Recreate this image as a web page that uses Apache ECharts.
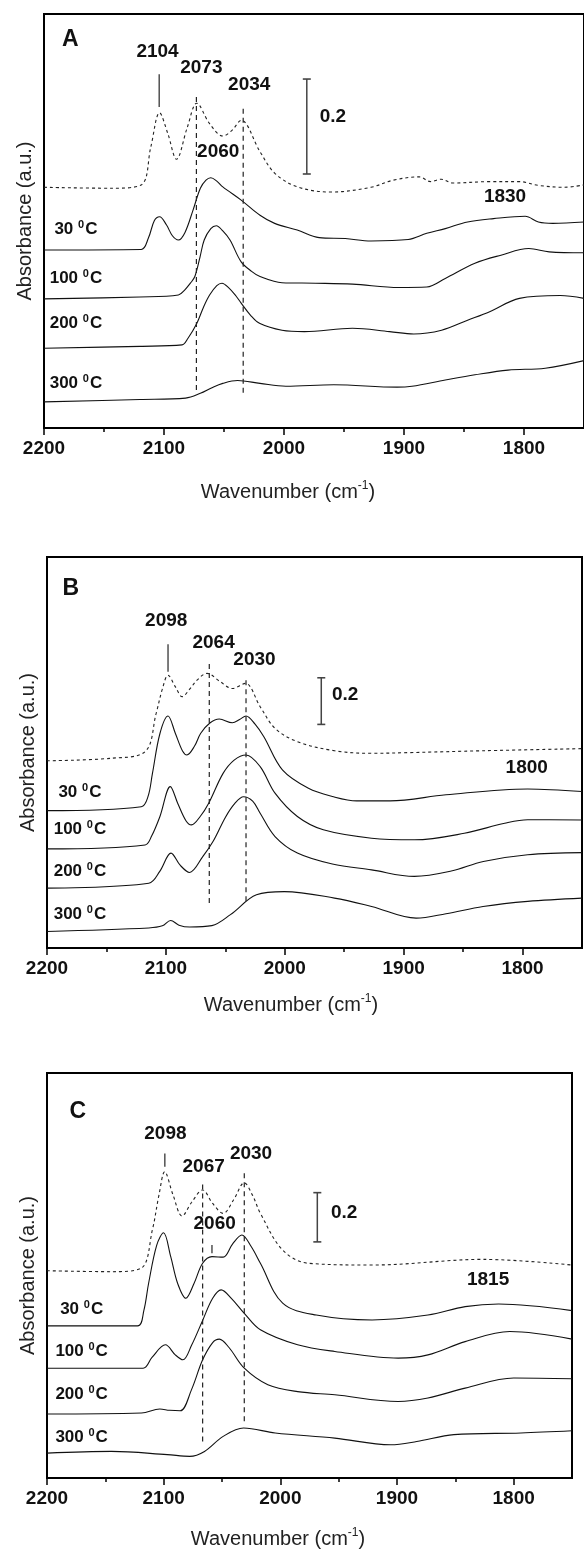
<!DOCTYPE html>
<html>
<head>
<meta charset="utf-8">
<script src="https://cdn.jsdelivr.net/npm/echarts@6/dist/echarts.min.js"></script>
<style>html,body{margin:0;padding:0;background:#fff;}#c{width:584px;height:1550px;}</style>
</head>
<body>
<div id="c"></div>
<script>
// ---------- DATA ----------
const tickLabels = [2200, 2100, 2000, 1900, 1800];
const minorTicks = [2150, 2050, 1950, 1850];
const temps = ['30', '100', '200', '300'];

// Panel A  [wavenumber, absorbance (offset)]
const A_ref = [[2200,0.507],[2143.8,0.505],[2119,0.512],[2111,0.592],[2103.7,0.664],[2096.8,0.620],[2089.6,0.566],[2080.5,0.634],[2072.7,0.684],[2062,0.641],[2051,0.615],[2043.3,0.627],[2035.7,0.648],[2020,0.582],[2007.8,0.537],[1989,0.508],[1961,0.497],[1927.5,0.507],[1908.9,0.522],[1887.2,0.529],[1878,0.519],[1869,0.524],[1859.4,0.516],[1828.5,0.519],[1803.8,0.519],[1788,0.511],[1766.8,0.507],[1750,0.512]];
const A_30 = [[2200,0.375],[2119,0.376],[2113,0.400],[2108,0.437],[2103.7,0.445],[2098,0.428],[2093,0.405],[2088,0.396],[2082.5,0.412],[2075.8,0.459],[2069.7,0.505],[2065,0.522],[2061,0.527],[2056,0.520],[2051,0.508],[2035.7,0.480],[2020,0.448],[2007.8,0.431],[1989,0.417],[1970.7,0.401],[1949,0.399],[1927.5,0.394],[1896.5,0.397],[1881,0.410],[1865.6,0.420],[1847,0.434],[1825.4,0.441],[1799,0.446],[1788,0.434],[1776,0.431],[1750,0.434]];
const A_100 = [[2200,0.272],[2120,0.276],[2088,0.280],[2083,0.290],[2078,0.305],[2074.3,0.319],[2070,0.360],[2066.5,0.396],[2061,0.420],[2056.4,0.426],[2051,0.415],[2045,0.396],[2035.7,0.350],[2027,0.330],[2020,0.319],[2001.7,0.306],[1973.8,0.305],[1942.9,0.303],[1904.2,0.296],[1881,0.297],[1865.6,0.315],[1840.9,0.347],[1819.2,0.364],[1796,0.378],[1779,0.371],[1750,0.369]];
const A_200 = [[2200,0.168],[2120,0.172],[2085,0.175],[2080,0.189],[2072.7,0.220],[2067,0.255],[2062,0.280],[2056,0.300],[2051.7,0.305],[2046,0.295],[2040,0.278],[2035.7,0.263],[2028,0.238],[2020,0.220],[2001.7,0.206],[1983,0.203],[1943,0.210],[1912,0.203],[1891.9,0.198],[1868.7,0.206],[1847,0.227],[1828.6,0.245],[1803.8,0.273],[1769.8,0.279],[1750,0.273]];
const A_300 = [[2200,0.055],[2120,0.060],[2082,0.063],[2069.7,0.073],[2060,0.085],[2051,0.094],[2038.7,0.100],[2020,0.094],[1998.5,0.088],[1958.5,0.091],[1905.8,0.086],[1893.4,0.088],[1865.6,0.101],[1840.9,0.112],[1813.3,0.122],[1782.3,0.126],[1750,0.142]];
const A_solidMarks = [[2104, 0.676, 0.745]];
const A_dashMarks = [[2073, 0.080, 0.705], [2034, 0.074, 0.676]];
const A_bar = [1981, 0.535, 0.735];
const A_peakText = [['2104',2105.4,0.792],['2073',2068.9,0.758],['2034',2029,0.722],['0.2',1959.3,0.655],['2060',2054.8,0.581],['1830',1815.8,0.488],['A',2178,0.817]];
const A_tempPos = [[2173.4,0.419],[2173.4,0.316],[2173.4,0.220],[2173.4,0.094]];

// Panel B
const B_ref = [[2200,0.803],[2145.7,0.814],[2117.5,0.842],[2108.2,1.006],[2103,1.110],[2098.2,1.170],[2092,1.120],[2086.3,1.078],[2080,1.110],[2073.8,1.149],[2065.4,1.178],[2055,1.145],[2044.1,1.113],[2033.2,1.135],[2020.7,1.035],[2008.2,0.942],[1989.4,0.885],[1958.2,0.846],[1927,0.835],[1895.7,0.838],[1833.2,0.846],[1750,0.855]];
const B_30 = [[2200,0.589],[2120.7,0.606],[2115,0.650],[2111.3,0.749],[2105,0.920],[2098.2,0.995],[2092,0.920],[2086,0.845],[2082.3,0.828],[2076,0.865],[2070.7,0.921],[2063,0.965],[2055.1,0.982],[2044.1,0.966],[2038,0.980],[2032.6,0.995],[2025,0.960],[2017.6,0.906],[2002,0.764],[1980.1,0.685],[1960,0.650],[1939.5,0.631],[1911.4,0.631],[1864.4,0.657],[1795.7,0.682],[1750,0.671]];
const B_100 = [[2200,0.425],[2117.5,0.442],[2112,0.480],[2105,0.564],[2096.3,0.692],[2090,0.620],[2083,0.545],[2078.5,0.528],[2071,0.565],[2064,0.621],[2051.9,0.749],[2042.6,0.806],[2032.6,0.828],[2020.7,0.778],[2008.2,0.664],[1989.4,0.564],[1967.6,0.507],[1927,0.471],[1891,0.464],[1849,0.492],[1815,0.535],[1795.7,0.550],[1750,0.549]];
const B_200 = [[2200,0.257],[2114.4,0.278],[2105,0.330],[2095.7,0.407],[2088,0.355],[2080.1,0.324],[2069,0.392],[2060,0.460],[2050,0.560],[2042,0.620],[2034.7,0.649],[2027,0.630],[2020.7,0.578],[2008.2,0.478],[1989.4,0.407],[1960,0.360],[1927,0.335],[1891,0.307],[1860,0.330],[1833,0.371],[1795.7,0.400],[1750,0.409]];
const B_300 = [[2200,0.071],[2114.4,0.086],[2103,0.095],[2096,0.118],[2089,0.098],[2080,0.090],[2061.3,0.096],[2045.7,0.143],[2023.8,0.228],[2000.4,0.242],[1958.2,0.214],[1927,0.178],[1889.5,0.128],[1864.4,0.147],[1833.2,0.178],[1795.7,0.200],[1750,0.214]];
const B_solidMarks = [[2098.2, 1.185, 1.303]];
const B_dashMarks = [[2063.5, 0.193, 1.221], [2032.6, 0.200, 1.156]];
const B_bar = [1969.3, 0.959, 1.159];
const B_peakText = [['2098',2099.7,1.402],['2064',2059.9,1.309],['2030',2025.5,1.235],['0.2',1949.2,1.085],['1800',1796.5,0.773],['B',2180,1.542]];
const B_tempPos = [[2172.3,0.666],[2172.3,0.507],[2172.3,0.328],[2172.3,0.143]];

// Panel C
const C_ref = [[2200,0.842],[2144.8,0.838],[2119.3,0.852],[2109.7,1.007],[2104,1.150],[2099.1,1.244],[2092,1.150],[2084.2,1.064],[2076,1.120],[2066.6,1.170],[2058,1.115],[2049,1.075],[2040,1.130],[2030.9,1.199],[2024,1.150],[2017.1,1.075],[1998,0.926],[1975.7,0.872],[1921.4,0.865],[1825.6,0.888],[1750,0.865]];
const C_30 = [[2200,0.618],[2122.4,0.618],[2117,0.680],[2112.9,0.791],[2106,0.945],[2100.1,0.996],[2094,0.900],[2088,0.790],[2081,0.730],[2074,0.790],[2066.6,0.872],[2058.6,0.899],[2049,0.897],[2041,0.950],[2033,0.987],[2025,0.940],[2017.1,0.872],[1998,0.710],[1969.2,0.662],[1921.4,0.642],[1873.5,0.662],[1841.6,0.696],[1812.9,0.707],[1750,0.680]];
const C_100 = [[2200,0.446],[2117.6,0.446],[2110,0.490],[2098.5,0.541],[2090,0.500],[2083.5,0.480],[2076,0.540],[2066.6,0.640],[2058,0.730],[2050.7,0.764],[2042,0.730],[2030.9,0.669],[2017.1,0.602],[1985.2,0.541],[1953.3,0.514],[1899,0.487],[1873.5,0.500],[1841.6,0.554],[1803.3,0.595],[1750,0.564]];
const C_200 = [[2200,0.260],[2119,0.264],[2103.3,0.280],[2095,0.275],[2085.8,0.273],[2076.2,0.358],[2066.6,0.480],[2058,0.550],[2052.3,0.564],[2044,0.530],[2030.9,0.446],[2010.7,0.379],[1985.2,0.351],[1953.3,0.338],[1899,0.311],[1873.5,0.325],[1841.6,0.365],[1800,0.406],[1750,0.403]];
const C_300 = [[2200,0.101],[2144.8,0.108],[2096.9,0.095],[2077.7,0.088],[2065,0.108],[2049,0.169],[2031.5,0.203],[2004.4,0.183],[1953.3,0.162],[1905.5,0.135],[1883.1,0.148],[1851.2,0.176],[1793.8,0.183],[1750,0.192]];
const C_solidMarks = [[2099, 1.264, 1.318], [2058.6, 0.913, 0.946]];
const C_dashMarks = [[2066.6, 0.148, 1.199], [2030.9, 0.230, 1.244]];
const C_bar = [1968.3, 0.959, 1.159];
const C_peakText = [['2098',2098.5,1.400],['2067',2065.7,1.264],['2030',2025.1,1.318],['0.2',1945.3,1.077],['2060',2056.3,1.032],['1815',1821.9,0.804],['C',2173.7,1.487]];
const C_tempPos = [[2170.3,0.686],[2170.3,0.514],[2170.3,0.338],[2170.3,0.166]];

// ---------- CHART ----------
const FONT = 'Liberation Sans, Arial, Helvetica, sans-serif';
const TXT = '#111';
const panels = [
  {grid:{left:44, top:14, width:542, height:414}, ymax:0.872, ref:A_ref, curves:[A_30,A_100,A_200,A_300], solid:A_solidMarks, dash:A_dashMarks, bar:A_bar, text:A_peakText, temp:A_tempPos, title:{x:288, y:492}},
  {grid:{left:47, top:557, width:535, height:391}, ymax:1.677, ref:B_ref, curves:[B_30,B_100,B_200,B_300], solid:B_solidMarks, dash:B_dashMarks, bar:B_bar, text:B_peakText, temp:B_tempPos, title:{x:291, y:1005}},
  {grid:{left:47, top:1073, width:525, height:405}, ymax:1.645, ref:C_ref, curves:[C_30,C_100,C_200,C_300], solid:C_solidMarks, dash:C_dashMarks, bar:C_bar, text:C_peakText, temp:C_tempPos, title:{x:278, y:1539}}
];

const grids = [], xAxes = [], yAxes = [], series = [], graphics = [];
const lblBase = {show:true, position:'inside', fontFamily:FONT, fontWeight:'bold', color:TXT, opacity:1, textBorderWidth:0, textShadowBlur:0};
panels.forEach((p, i) => {
  grids.push(Object.assign({show:true, borderColor:'#000', borderWidth:2, backgroundColor:'transparent'}, p.grid));
  xAxes.push({gridIndex:i, type:'value', min:1750, max:2200, inverse:true, position:'bottom',
    axisLine:{show:true, lineStyle:{color:'#000', width:2}},
    axisTick:{show:true, customValues:tickLabels, length:7, lineStyle:{color:'#000', width:1.5}},
    axisLabel:{show:true, customValues:tickLabels, formatter:v => String(Math.round(v)), fontSize:19, fontWeight:'bold', fontFamily:FONT, color:TXT, margin:11},
    splitLine:{show:false}});
  xAxes.push({gridIndex:i, type:'value', min:1750, max:2200, inverse:true, position:'bottom',
    axisLine:{show:false},
    axisTick:{show:true, customValues:minorTicks, length:4, lineStyle:{color:'#000', width:1.5}},
    axisLabel:{show:false}, splitLine:{show:false}});
  yAxes.push({gridIndex:i, type:'value', min:0, max:p.ymax,
    axisLine:{show:false}, axisTick:{show:false}, axisLabel:{show:false}, splitLine:{show:false},
    name:'Absorbance (a.u.)', nameLocation:'middle', nameRotate:90, nameGap:9,
    nameTextStyle:{fontSize:20, fontFamily:FONT, color:'#222'}});
  const xi = 2*i;
  const base = {type:'line', xAxisIndex:xi, yAxisIndex:i, showSymbol:false, symbol:'none', smooth:0.35, silent:true, animation:false, z:3};
  series.push(Object.assign({}, base, {data:p.ref, lineStyle:{color:'#222', width:1.1, type:[3,3]}}));
  p.curves.forEach(c => series.push(Object.assign({}, base, {data:c, lineStyle:{color:'#111', width:1.1}})));
  p.solid.forEach(m => series.push(Object.assign({}, base, {smooth:false, data:[[m[0],m[1]],[m[0],m[2]]], lineStyle:{color:'#444', width:1.4}})));
  p.dash.forEach(m => series.push(Object.assign({}, base, {smooth:false, data:[[m[0],m[1]],[m[0],m[2]]], lineStyle:{color:'#222', width:1.2, type:[5,4]}})));
  series.push(Object.assign({}, base, {smooth:false, showSymbol:true, symbol:'rect', symbolSize:[8,1.6],
    itemStyle:{color:'#444'}, data:[[p.bar[0],p.bar[1]],[p.bar[0],p.bar[2]]], lineStyle:{color:'#444', width:1.5}}));
  // text labels in data coordinates
  const txtData = p.text.map(t => ({value:[t[1], t[2]], label:{formatter:t[0], fontSize: (t[0].length===1 ? 23 : 19)}}));
  const tempData = p.temp.map((t, k) => ({value:[t[0], t[1]], label:{formatter:'{n|' + temps[k] + ' }{s|0}{n|C}'}}));
  series.push({type:'scatter', xAxisIndex:xi, yAxisIndex:i, symbolSize:0, itemStyle:{color:'#000', opacity:1}, silent:true, animation:false, z:5,
    label:Object.assign({}, lblBase), data:txtData});
  series.push({type:'scatter', xAxisIndex:xi, yAxisIndex:i, symbolSize:0, itemStyle:{color:'#000', opacity:1}, silent:true, animation:false, z:5,
    label:Object.assign({}, lblBase, {
      rich:{n:{fontSize:17, fontWeight:'bold', fontFamily:FONT, color:TXT, lineHeight:20},
            s:{fontSize:11, fontWeight:'bold', fontFamily:FONT, color:TXT, lineHeight:12, verticalAlign:'top', padding:[0,1,0,0]}}}),
    data:tempData});
  graphics.push({type:'text', x:p.title.x, y:p.title.y, z:10,
    style:{text:'{n|Wavenumber (cm}{s|-1}{n|)}', align:'center', verticalAlign:'middle', textAlign:'center', textVerticalAlign:'middle',
      fill:'#222', font:'20px ' + FONT,
      rich:{n:{fontSize:20, fontFamily:FONT, fill:'#222', color:'#222', lineHeight:24},
            s:{fontSize:12, fontFamily:FONT, fill:'#222', color:'#222', lineHeight:12, verticalAlign:'top'}}}});
});

const chart = echarts.init(document.getElementById('c'), null, {renderer:'canvas'});
chart.setOption({animation:false, backgroundColor:'#fff', grid:grids, xAxis:xAxes, yAxis:yAxes, series:series, graphic:graphics});
</script>
</body>
</html>
